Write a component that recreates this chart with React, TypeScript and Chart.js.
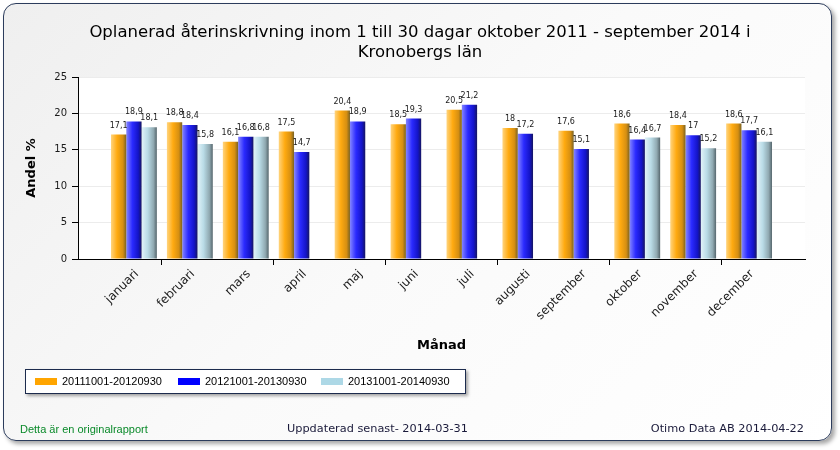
import React, { useEffect, useRef } from 'react';
import { Chart, registerables } from 'chart.js';

Chart.register(...registerables);

const titleLines = [
  'Oplanerad återinskrivning inom 1 till 30 dagar oktober 2011 - september 2014 i',
  'Kronobergs län',
];
const months = [
  'januari', 'februari', 'mars', 'april', 'maj', 'juni',
  'juli', 'augusti', 'september', 'oktober', 'november', 'december',
];
const series2012 = [17.1, 18.8, 16.1, 17.5, 20.4, 18.5, 20.5, 18, 17.6, 18.6, 18.4, 18.6];
const series2013 = [18.9, 18.4, 16.8, 14.7, 18.9, 19.3, 21.2, 17.2, 15.1, 16.4, 17, 17.7];
const series2014 = [18.1, 15.8, 16.8, null, null, null, null, null, null, 16.7, 15.2, 16.1];
const seriesLabels = ['20111001-20120930', '20121001-20130930', '20131001-20140930'];
const seriesColors = ['#ffa500', '#0000ff', '#add8e6'];
const yMin = 0;
const yMax = 25;
const yStep = 5;
const yTitle = 'Andel %';
const xTitle = 'Månad';
const footerLeft = 'Detta är en originalrapport';
const footerCenter = 'Uppdaterad senast- 2014-03-31';
const footerRight = 'Otimo Data AB 2014-04-22';

const gradientStops: string[][] = [
  ['#ffd47e', '#ffaa10', '#d68f12', '#7a6222'],
  ['#8585ff', '#2a2aff', '#1414c8', '#161660'],
  ['#e2f3f9', '#b9dbe6', '#90a9b1', '#56676d'],
];

const pad = (arr: (number | null)[]) => [null, ...arr, null];

const fmt = (v: number) => String(v).replace('.', ',');

const plotBgPlugin = {
  id: 'plotBg',
  beforeDraw(chart: any) {
    const { ctx, chartArea } = chart;
    ctx.save();
    ctx.fillStyle = '#ffffff';
    ctx.fillRect(chartArea.left, chartArea.top, chartArea.right - chartArea.left, chartArea.bottom - chartArea.top);
    ctx.restore();
  },
};

const barGradientPlugin = {
  id: 'barGradient',
  beforeDatasetsDraw(chart: any) {
    const { ctx } = chart;
    chart.data.datasets.forEach((ds: any, di: number) => {
      const meta = chart.getDatasetMeta(di);
      meta.data.forEach((el: any) => {
        if (!el || el.width == null || isNaN(el.x)) return;
        const x0 = el.x - el.width / 2;
        const x1 = el.x + el.width / 2;
        const g = ctx.createLinearGradient(x0, 0, x1, 0);
        const stops = gradientStops[di];
        g.addColorStop(0, stops[0]);
        g.addColorStop(0.4, stops[1]);
        g.addColorStop(0.78, stops[2]);
        g.addColorStop(1, stops[3]);
        el.options = Object.assign({}, el.options, { backgroundColor: g });
      });
    });
  },
};

const valueLabelPlugin = {
  id: 'valueLabels',
  afterDatasetsDraw(chart: any) {
    const { ctx } = chart;
    ctx.save();
    ctx.font = '8px "DejaVu Sans"';
    ctx.fillStyle = '#1a1a1a';
    ctx.textAlign = 'center';
    ctx.textBaseline = 'bottom';
    chart.data.datasets.forEach((ds: any, di: number) => {
      const meta = chart.getDatasetMeta(di);
      meta.data.forEach((el: any, i: number) => {
        const v = ds.data[i];
        if (v == null) return;
        ctx.fillText(fmt(v), el.x, el.y - 5);
      });
    });
    ctx.restore();
  },
};

export default function App() {
  const canvasRef = useRef<HTMLCanvasElement>(null);

  useEffect(() => {
    const canvas = canvasRef.current;
    if (!canvas) return;
    const data = [series2012, series2013, series2014];
    const chart = new Chart(canvas, {
      type: 'bar',
      data: {
        labels: ['', ...months, ''],
        datasets: data.map((d, i) => ({
          label: seriesLabels[i],
          data: pad(d),
          backgroundColor: seriesColors[i],
          borderWidth: 0,
          categoryPercentage: 0.82,
          barPercentage: 1,
        })),
      },
      options: {
        responsive: false,
        animation: false,
        devicePixelRatio: 1,
        layout: { padding: { left: 35, right: 35, top: 23, bottom: 91 } },
        plugins: {
          legend: { display: false },
          tooltip: { enabled: false },
          title: {
            display: true,
            text: titleLines,
            color: '#000000',
            font: { family: '"DejaVu Sans"', size: 16.5, weight: 'normal', lineHeight: '20px' },
            padding: { top: 0, bottom: 14 },
          },
        },
        scales: {
          x: {
            type: 'category',
            offset: false,
            afterFit: (scale: any) => { scale.height = 100; },
            grid: {
              drawOnChartArea: false,
              drawTicks: true,
              tickLength: 6,
              tickColor: (ctx: any) => (ctx.index % 2 === 0 ? '#000000' : 'rgba(0,0,0,0)'),
            },
            border: { display: true, color: '#000000', width: 1 },
            ticks: {
              autoSkip: false,
              minRotation: 45,
              maxRotation: 45,
              color: '#1a1a1a',
              padding: 2,
              labelOffset: 3,
              font: { family: '"DejaVu Sans"', size: 12 },
            },
            title: {
              display: true,
              text: xTitle,
              color: '#000000',
              font: { family: '"DejaVu Sans"', size: 13, weight: 'bold', lineHeight: 1.2 },
              padding: { top: 0, bottom: 6 },
            },
          },
          y: {
            min: yMin,
            max: yMax,
            afterFit: (scale: any) => { scale.width = 43; },
            ticks: {
              stepSize: yStep,
              color: '#1a1a1a',
              padding: 5,
              font: { family: '"DejaVu Sans"', size: 10 },
            },
            grid: {
              color: (ctx: any) => (ctx.tick && ctx.tick.value === 0 ? 'rgba(0,0,0,0)' : '#ececec'),
              tickColor: '#000000',
              tickLength: 6,
            },
            border: { display: true, color: '#000000', width: 1 },
            title: {
              display: true,
              text: yTitle,
              color: '#000000',
              font: { family: '"DejaVu Sans"', size: 13, weight: 'bold', lineHeight: 1.2 },
              padding: { top: -11, bottom: 0 },
            },
          },
        },
      },
      plugins: [plotBgPlugin, barGradientPlugin, valueLabelPlugin],
    } as any);
    return () => chart.destroy();
  }, []);

  return (
    <div style={{ position: 'fixed', left: 0, top: 0, width: 840, height: 450, background: '#ffffff', overflow: 'hidden' }}>
      <div
        style={{
          position: 'absolute', left: 3, top: 3, width: 829, height: 438, boxSizing: 'border-box',
          border: '1.5px solid #2c3c5c', borderRadius: 13,
          background: 'linear-gradient(135deg, #efefef 0%, #fafafa 50%, #ffffff 100%)',
          boxShadow: '3px 3px 4px rgba(0,0,0,0.35)',
        }}
      />
      <canvas ref={canvasRef} width={840} height={450} style={{ position: 'absolute', left: 0, top: 0, width: 840, height: 450 }} />
      <div
        style={{
          position: 'absolute', left: 25, top: 369, width: 441, height: 25, boxSizing: 'border-box',
          border: '1.5px solid #1c2b4d', background: '#ffffff', boxShadow: '2px 2px 3px rgba(0,0,0,0.35)',
        }}
      >
        {seriesLabels.map((lab, i) => (
          <div key={lab} style={{ position: 'absolute', left: 9 + i * 143, top: 0, height: 22, display: 'flex', alignItems: 'center' }}>
            <span style={{ display: 'inline-block', width: 22, height: 7, background: seriesColors[i] }} />
            <span style={{ marginLeft: 5, font: '11px "Liberation Sans", Arial, sans-serif', color: '#000000' }}>{lab}</span>
          </div>
        ))}
      </div>
      <div style={{ position: 'absolute', left: 20, top: 422, font: '11px "Liberation Sans", Arial, sans-serif', color: '#0a8a2a', lineHeight: '14px' }}>
        {footerLeft}
      </div>
      <div style={{ position: 'absolute', left: 287, top: 422, font: '11.3px "DejaVu Sans", sans-serif', color: '#1a1a3a', lineHeight: '14px' }}>
        {footerCenter}
      </div>
      <div style={{ position: 'absolute', right: 36, top: 422, font: '11.3px "DejaVu Sans", sans-serif', color: '#1a1a3a', lineHeight: '14px', textAlign: 'right' }}>
        {footerRight}
      </div>
    </div>
  );
}
